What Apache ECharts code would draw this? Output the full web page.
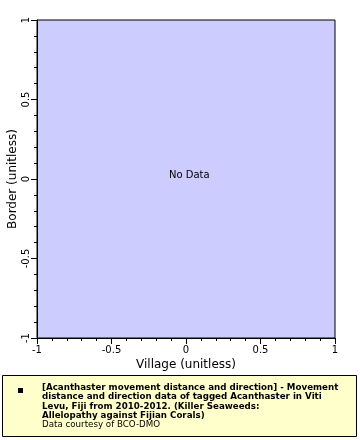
<!DOCTYPE html>
<html><head><meta charset="utf-8">
<script src="https://cdn.jsdelivr.net/npm/echarts@6/dist/echarts.min.js"></script>
<style>html,body{margin:0;padding:0;background:#fff}#c{width:360px;height:440px}</style>
</head><body><div id="c"></div>
<script>
const xTicks = [-1, -0.5, 0, 0.5, 1];
const yTicks = [-1, -0.5, 0, 0.5, 1];
const seriesPoints = []; // no data
const xName = 'Village (unitless)';
const yName = 'Border (unitless)';
const legendLines = [
  '[Acanthaster movement distance and direction] - Movement',
  'distance and direction data of tagged Acanthaster in Viti',
  'Levu, Fiji from 2010-2012. (Killer Seaweeds:',
  'Allelopathy against Fijian Corals)'
];
const courtesy = 'Data courtesy of BCO-DMO';

const chart = echarts.init(document.getElementById('c'), null, {renderer: 'canvas'});
const F = 'DejaVu Sans';
const axisCommon = {
  type: 'value', min: xTicks[0], max: xTicks[xTicks.length-1], interval: 0.5,
  axisLine: {show: true, onZero: false, lineStyle: {color: '#000', width: 1}},
  axisTick: {show: true, length: 6, inside: false, lineStyle: {color: '#000'}},
  minorTick: {show: true, splitNumber: 5, length: 3, lineStyle: {color: '#000'}},
  splitLine: {show: false},
  axisLabel: {color: '#000', fontFamily: F, fontSize: 10, showMinLabel: true, showMaxLabel: true,
    formatter: v => String(v)},
  nameLocation: 'middle',
  nameMoveOverlap: false,
  nameTextStyle: {color: '#000', fontFamily: F, fontSize: 12}
};
chart.setOption({
  animation: false,
  grid: {left: 37, top: 20, right: 25, bottom: 102, show: true, containLabel: false,
    outerBoundsMode: 'none',
    backgroundColor: '#ccccff', borderColor: '#000', borderWidth: 1},
  xAxis: Object.assign({}, axisCommon, {name: xName, nameGap: 21,
    axisLabel: Object.assign({}, axisCommon.axisLabel, {margin: 7})}),
  yAxis: Object.assign({}, axisCommon, {name: yName, nameGap: 18,
    min: yTicks[0], max: yTicks[yTicks.length-1],
    axisLabel: Object.assign({}, axisCommon.axisLabel, {rotate: 90, margin: 6})}),
  series: [{type: 'scatter', data: seriesPoints}],
  graphic: [
    {type: 'text', left: 169, top: 170, style: {text: 'No Data', fill: '#000', font: '10px "DejaVu Sans"'}},
    {type: 'rect', shape: {x: 2.5, y: 375.5, width: 354, height: 61},
      style: {fill: '#ffffcc', stroke: '#000', lineWidth: 1}},
    {type: 'rect', shape: {x: 18, y: 388, width: 5, height: 5}, style: {fill: '#000'}},
    {type: 'text', x: 42, y: 383, style: {text: legendLines.join('\n'), fill: '#000',
      font: 'bold 8.7px "DejaVu Sans"', lineHeight: 9.3}},
    {type: 'text', x: 42, y: 420, style: {text: courtesy, fill: '#000',
      font: '8.7px "DejaVu Sans"'}}
  ]
});
</script></body></html>
